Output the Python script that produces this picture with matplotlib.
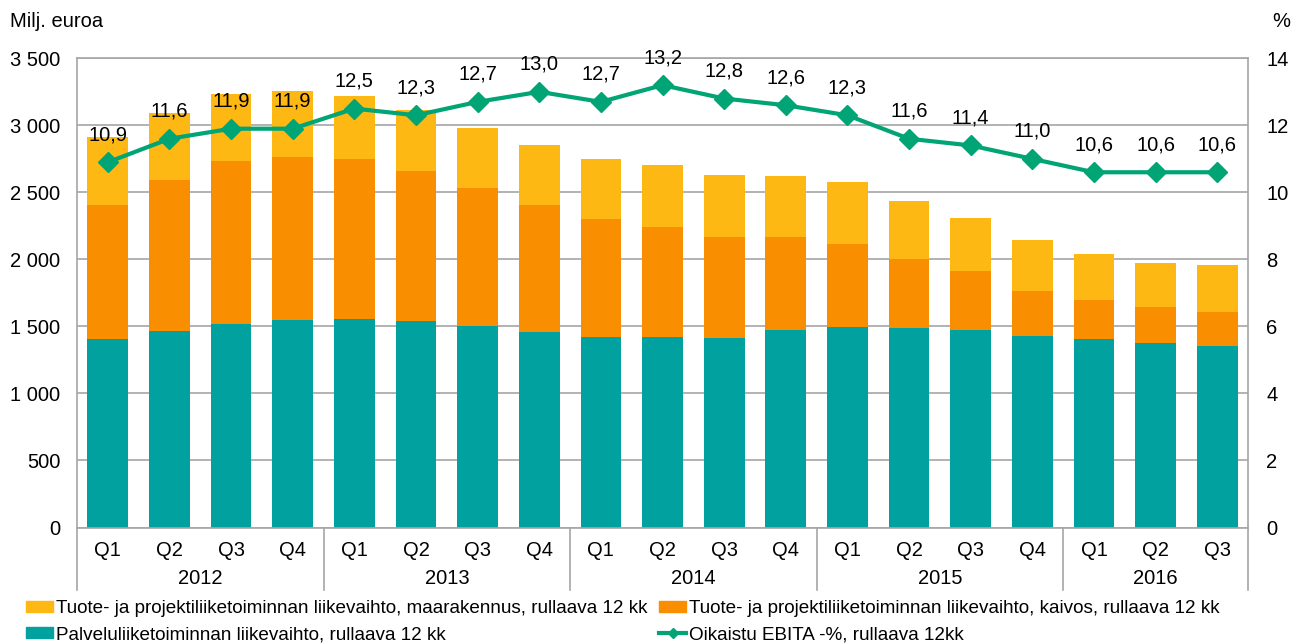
import numpy as np
import matplotlib
matplotlib.use("Agg")
import matplotlib.pyplot as plt
from matplotlib.lines import Line2D
from matplotlib.patches import Patch
import matplotlib.transforms as mtransforms

plt.rcParams['font.family'] = ['Liberation Sans', 'DejaVu Sans']

quarters = ["Q1", "Q2", "Q3", "Q4", "Q1", "Q2", "Q3", "Q4", "Q1", "Q2", "Q3", "Q4",
            "Q1", "Q2", "Q3", "Q4", "Q1", "Q2", "Q3"]
years = ["2012", "2013", "2014", "2015", "2016"]
year_counts = [4, 4, 4, 4, 3]

palvelu = [1405, 1465, 1520, 1550, 1555, 1540, 1505, 1460, 1422, 1422, 1412, 1470,
           1494, 1489, 1474, 1431, 1407, 1377, 1354]
kaivos = [1000, 1128, 1215, 1215, 1195, 1120, 1031, 949, 882, 821, 754, 696,
          619, 512, 438, 336, 293, 271, 256]
maarakennus = [508, 498, 502, 492, 468, 453, 445, 448, 448, 464, 462, 457,
               463, 433, 398, 381, 339, 326, 349]
ebita = [10.9, 11.6, 11.9, 11.9, 12.5, 12.3, 12.7, 13.0, 12.7, 13.2, 12.8, 12.6,
         12.3, 11.6, 11.4, 11.0, 10.6, 10.6, 10.6]

labels = ["Tuote- ja projektiliiketoiminnan liikevaihto, maarakennus, rullaava 12 kk",
          "Tuote- ja projektiliiketoiminnan liikevaihto, kaivos, rullaava 12 kk",
          "Palveluliiketoiminnan liikevaihto, rullaava 12 kk",
          "Oikaistu EBITA -%, rullaava 12kk"]

c_yellow = "#FDB813"
c_orange = "#F98E00"
c_teal = "#00A19E"
c_line = "#00A475"
c_grid = "#A6A6A6"
fs = 14.5
lfs = 13.6

fig = plt.figure(figsize=(13.01, 6.43), dpi=100)
ax = fig.add_axes([0.0592, 0.1796, 0.9001, 0.7297])
x = np.arange(len(quarters))
w = 0.66
p = np.array(palvelu)
k = np.array(kaivos)
m = np.array(maarakennus)
ax.bar(x, p, w, color=c_teal, zorder=2)
ax.bar(x, k, w, bottom=p, color=c_orange, zorder=2)
ax.bar(x, m, w, bottom=p + k, color=c_yellow, zorder=2)

ax.set_xlim(-0.5, len(quarters) - 0.5)
ax.set_ylim(0, 3500)
ax.set_yticks(np.arange(0, 3501, 500))
ax.set_yticklabels([f"{v:,}".replace(",", " ") for v in range(0, 3501, 500)], fontsize=fs)
ax.yaxis.grid(True, color=c_grid, lw=1.2, zorder=0)
ax.set_axisbelow(True)
for s in ax.spines.values():
    s.set_color(c_grid)
    s.set_linewidth(1.2)
ax.tick_params(axis='y', length=0, pad=12)
ax.set_xticks(x)
ax.set_xticklabels(quarters, fontsize=fs)
ax.tick_params(axis='x', length=0, pad=10)

ax2 = ax.twinx()
ax2.set_ylim(0, 14)
ax2.set_yticks(np.arange(0, 15, 2))
ax2.set_yticklabels([str(v) for v in range(0, 15, 2)], fontsize=fs)
ax2.tick_params(axis='y', length=0, pad=13)
for s in ax2.spines.values():
    s.set_visible(False)
ax2.plot(x, ebita, color=c_line, lw=3, marker='D', ms=10, zorder=5)
for xi, v in zip(x, ebita):
    ax2.annotate(f"{v:.1f}".replace(".", ","), (xi, v), xytext=(0, 13),
                 textcoords='offset points', ha='center', va='bottom', fontsize=fs)

# year labels and separators
trans = mtransforms.blended_transform_factory(ax.transData, ax.transAxes)
pos = -0.5
bounds = [pos]
for yr, n in zip(years, year_counts):
    ax.text(pos + n / 2, -0.108, yr, transform=trans, ha='center', va='center', fontsize=fs)
    pos += n
    bounds.append(pos)
for b in bounds:
    ax.add_line(Line2D([b, b], [0, -0.133], transform=trans, color=c_grid, lw=1.2, clip_on=False))

fig.text(0.008, 0.966, "Milj. euroa", fontsize=fs, ha='left', va='center')
fig.text(0.9845, 0.966, "%", fontsize=fs, ha='center', va='center')

handles = [Patch(color=c_yellow), Patch(color=c_teal), Patch(color=c_orange),
           Line2D([], [], color=c_line, lw=3, marker='D', ms=5)]
hl = [labels[0], labels[2], labels[1], labels[3]]
fig.legend(handles, hl, loc='upper left', bbox_to_anchor=(0.020, 0.067), ncol=2,
           frameon=False, fontsize=lfs, handlelength=1.45, handleheight=0.5,
           handletextpad=0.15, columnspacing=0.6, labelspacing=0.5, borderaxespad=0,
           borderpad=0)

fig.savefig("out.png", dpi=100)
